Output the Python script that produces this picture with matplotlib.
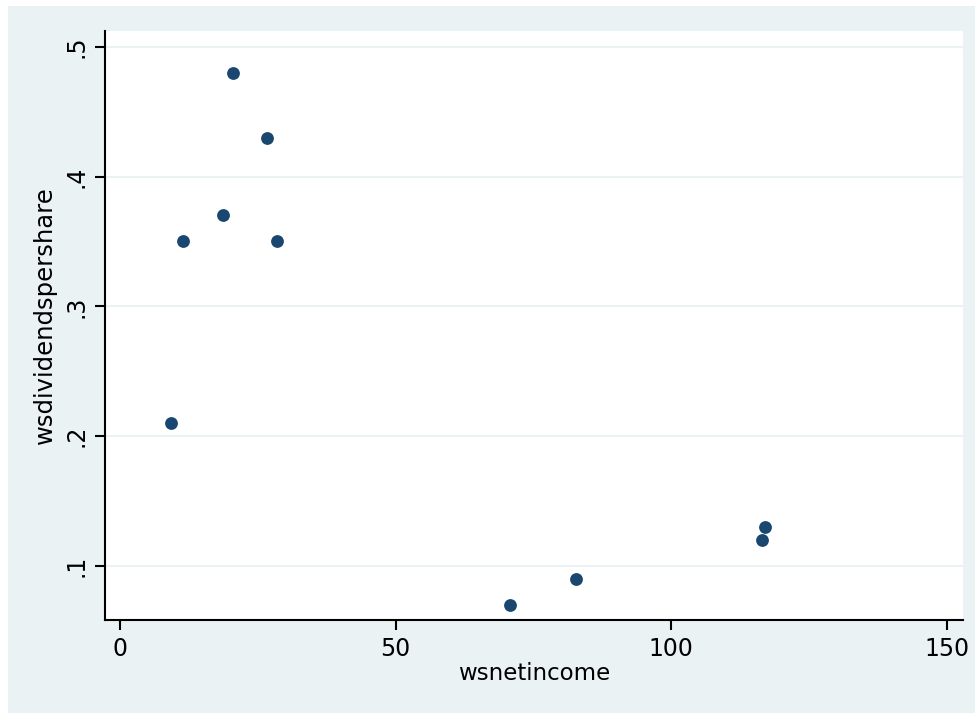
import matplotlib
matplotlib.use("Agg")
import matplotlib.pyplot as plt
from matplotlib.patches import Rectangle

wsnetincome = [20.5, 26.7, 18.7, 11.4, 28.5, 9.3, 117.1, 116.5, 82.8, 70.8]
wsdividendspershare = [0.48, 0.43, 0.37, 0.35, 0.35, 0.21, 0.13, 0.12, 0.09, 0.07]
xticks = [0, 50, 100, 150]
xticklabels = ["0", "50", "100", "150"]
yticks = [0.1, 0.2, 0.3, 0.4, 0.5]
yticklabels = [".1", ".2", ".3", ".4", ".5"]

W, H = 975, 713
fig = plt.figure(figsize=(W / 100, H / 100), dpi=100)
fig.patch.set_facecolor("white")
fig.patches.append(Rectangle((8 / W, 0), 1 - 8 / W, 1 - 6 / H, transform=fig.transFigure,
                             facecolor="#EAF2F3", edgecolor="none", zorder=-10))

ax = fig.add_axes([105 / W, 1 - 620 / H, (963 - 105) / W, (620 - 31) / H])
ax.set_zorder(5)
ax.set_facecolor("white")
ax.scatter(wsnetincome, wsdividendspershare, s=85, color="#1A476F",
           zorder=3, linewidths=0)
ax.set_xlim(-2.72, 152.96)
ax.set_ylim(0.0584, 0.5121)
ax.set_xticks(xticks)
ax.set_xticklabels(xticklabels)
ax.set_yticks(yticks)
ax.set_yticklabels(yticklabels, rotation=90, va="center")
ax.grid(axis="y", color="#EAF2F3", linewidth=1.5, zorder=0)
ax.grid(axis="x", visible=False)
for s in ["top", "right"]:
    ax.spines[s].set_visible(False)
for s in ["left", "bottom"]:
    ax.spines[s].set_linewidth(1.5)
    ax.spines[s].set_color("black")
ax.tick_params(axis="both", length=7, width=1.5, labelsize=17, pad=5, colors="black")
ax.set_xlabel("wsnetincome", fontsize=16.5, labelpad=1)
ax.set_ylabel("wsdividendspershare", fontsize=17.5)
ax.yaxis.set_label_coords(-48 / (963 - 105), 0.518)

fig.savefig("out.png", dpi=100)
